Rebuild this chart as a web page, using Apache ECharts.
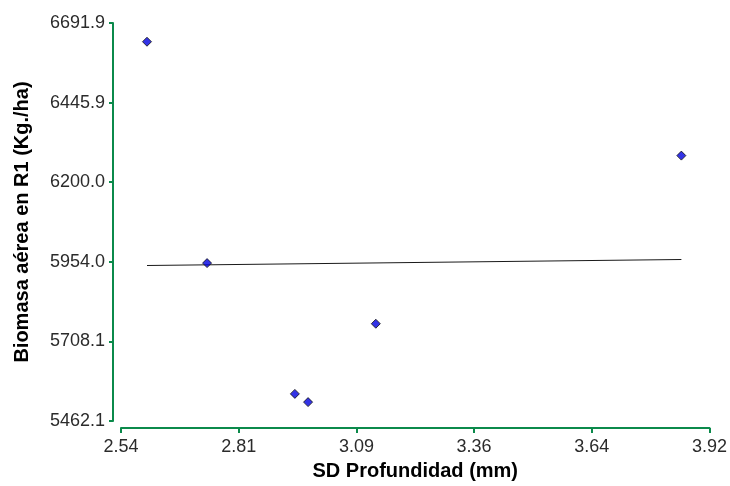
<!DOCTYPE html>
<html>
<head>
<meta charset="utf-8">
<script src="https://cdn.jsdelivr.net/npm/echarts@6/dist/echarts.min.js"></script>
<style>
html, body { margin: 0; padding: 0; background: #fff; }
#chart { width: 730px; height: 486px; }
</style>
</head>
<body>
<div id="chart"></div>
<script>
// puntos observados (SD profundidad, biomasa)
var sdProf = [2.597, 2.738, 2.944, 2.975, 3.134, 3.851];
var biomasa = [6634.0, 5950.0, 5545.9, 5520.5, 5762.6, 6282.1];

// recta de regresion, extremos
var lineaX = [2.597, 3.851];
var lineaY = [5942.6, 5961.1];

// escalas de los ejes
var xMin = 2.536, xMax = 3.917, xStep = 0.2762;
var yMin = 5462.1, yMax = 6691.9, yStep = 245.96;
var xTicks = ['2.54', '2.81', '3.09', '3.36', '3.64', '3.92'];
var yTicks = ['5462.1', '5708.1', '5954.0', '6200.0', '6445.9', '6691.9'];

var puntos = [];
for (var i = 0; i < sdProf.length; i++) {
    puntos.push([sdProf[i], biomasa[i]]);
}
var linea = [];
for (var j = 0; j < lineaX.length; j++) {
    linea.push([lineaX[j], lineaY[j]]);
}

var verde = '#0b8a4b';
var dom = document.getElementById('chart');
var myChart = echarts.init(dom);

var option = {
    animation: false,
    textStyle: { fontFamily: 'Liberation Sans, Arial, sans-serif' },
    grid: { left: 121, right: 19, top: 23, bottom: 63 },
    xAxis: {
        type: 'value',
        min: xMin,
        max: xMax,
        interval: xStep,
        offset: 7,
        name: 'SD Profundidad (mm)',
        nameLocation: 'middle',
        nameGap: 33,
        nameTextStyle: { fontSize: 20, fontWeight: 'bold', color: '#000' },
        axisLine: { lineStyle: { color: verde, width: 2 } },
        axisTick: { length: 5, lineStyle: { color: verde, width: 2 } },
        splitLine: { show: false },
        axisLabel: {
            fontSize: 18,
            color: '#2b2b2b',
            margin: 10,
            formatter: function (v) {
                return xTicks[Math.round((v - xMin) / xStep)];
            }
        }
    },
    yAxis: {
        type: 'value',
        min: yMin,
        max: yMax,
        interval: yStep,
        offset: 8,
        name: 'Biomasa aérea en R1 (Kg./ha)',
        nameLocation: 'middle',
        nameGap: 81,
        nameTextStyle: { fontSize: 20, fontWeight: 'bold', color: '#000' },
        axisLine: { show: true, lineStyle: { color: verde, width: 2 } },
        axisTick: { show: true, length: 4, lineStyle: { color: verde, width: 2 } },
        splitLine: { show: false },
        axisLabel: {
            fontSize: 18,
            color: '#2b2b2b',
            margin: 8,
            formatter: function (v) {
                return yTicks[Math.round((v - yMin) / yStep)];
            }
        }
    },
    series: [{
        type: 'line',
        data: linea,
        symbol: 'none',
        lineStyle: { color: '#1a1a1a', width: 1.2 },
        z: 1
    }, {
        type: 'scatter',
        data: puntos,
        symbol: 'diamond',
        symbolSize: 9,
        itemStyle: { color: '#0000e0', borderColor: '#111', borderWidth: 1 },
        z: 3
    }]
};
myChart.setOption(option);
window.onresize = myChart.resize;
</script>
</body>
</html>
